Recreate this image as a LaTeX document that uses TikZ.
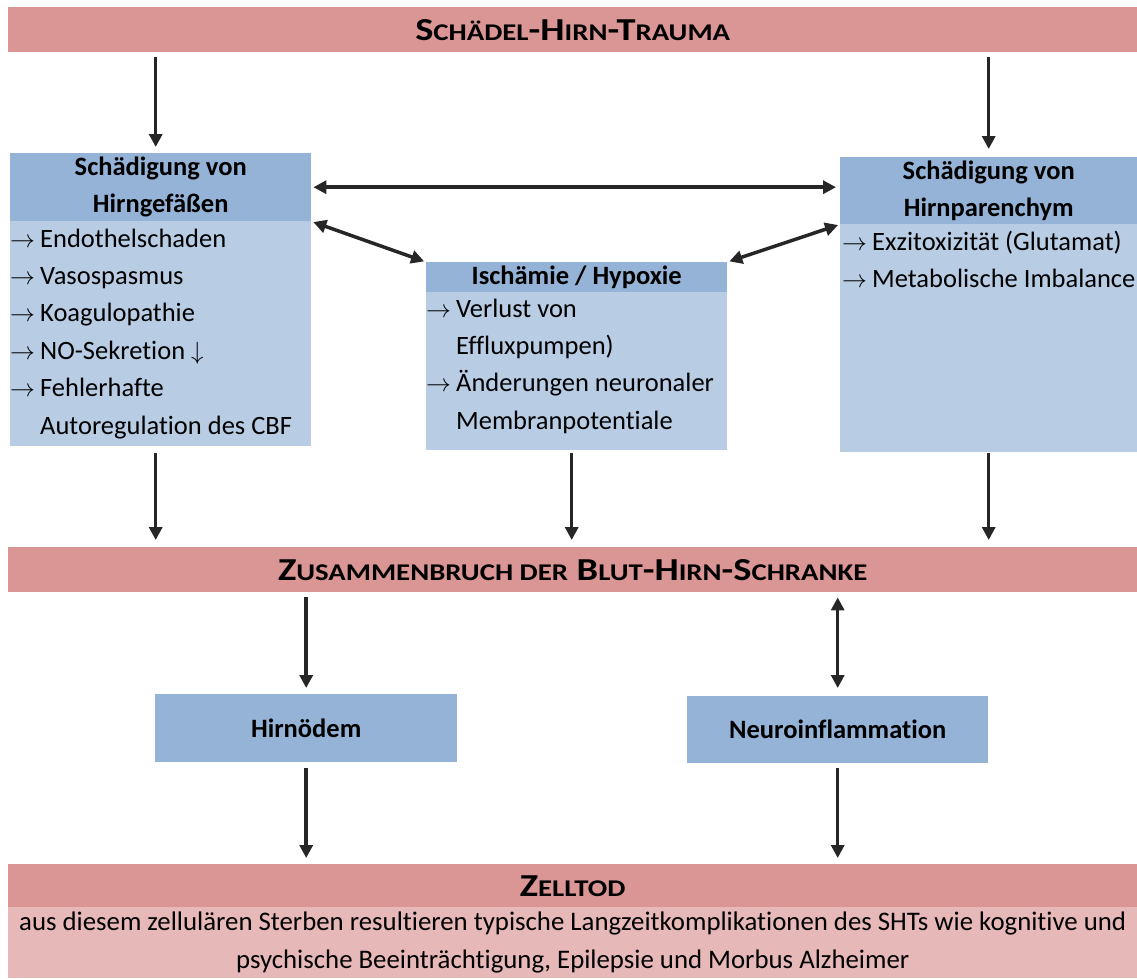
\documentclass[tikz,border=0pt]{standalone}
\usepackage{fontspec}
\setmainfont{Carlito}[Ligatures=NoCommon]
\newfontfamily\titelfont{Carlito}[FakeStretch=1.2]
\usetikzlibrary{arrows.meta}

\definecolor{balkenrot}{RGB}{218,150,148}
\definecolor{balkenhell}{RGB}{230,184,183}
\definecolor{kopfblau}{RGB}{149,179,215}
\definecolor{koerperblau}{RGB}{184,204,228}
\definecolor{pfeilgrau}{RGB}{38,38,38}

\newcommand{\pf}{\makebox[30pt][l]{\fontsize{26}{30}\selectfont$\rightarrow$}}
% Kapitaelchen von Hand (Carlito hat keine)
\newcommand{\kl}[1]{{\fontsize{24}{28}\selectfont #1}}

\tikzset{
  balken/.style={fill=balkenrot,inner sep=0pt,anchor=north west,minimum width=1129,minimum height=45,
    font=\fontsize{32}{38}\titelfont\bfseries},
  kopf/.style={fill=kopfblau,inner sep=0pt,anchor=north west,align=center,
    font=\fontsize{26.5}{37}\selectfont\bfseries},
  koerper/.style={fill=koerperblau,inner sep=0pt,anchor=north west},
  zeile/.style={anchor=base west,inner sep=0pt,font=\fontsize{26.5}{30}\selectfont},
  pfeil/.style={draw=pfeilgrau,line width=3.5pt,-{Triangle[length=13pt,width=13pt]}},
  doppelpfeil/.style={draw=pfeilgrau,line width=3.5pt,{Triangle[length=13pt,width=13pt]}-{Triangle[length=13pt,width=13pt]}}
}

\begin{document}
\begin{tikzpicture}[x=1pt,y=-1pt]
\path[use as bounding box] (0,0) rectangle (1137,978);
% Titel
\node[balken] (sht) at (8,7) {S\kl{CHÄDEL}-H\kl{IRN}-T\kl{RAUMA}};
% Gefaesse
\node[kopf,minimum width=301,minimum height=68] (gefkopf) at (10,153) {Schädigung von\\Hirngefäßen};
\node[koerper,minimum width=301,minimum height=225] (gefkoerper) at (10,221) {};
\node[zeile] (gef1) at (10,247) {\pf Endothelschaden};
\node[zeile] (gef2) at (10,284) {\pf Vasospasmus};
\node[zeile] (gef3) at (10,321) {\pf Koagulopathie};
\node[zeile] (gef4) at (10,359) {\pf NO-Sekretion {\fontsize{26}{30}\selectfont$\downarrow$}};
\node[zeile] (gef5) at (10,396) {\pf Fehlerhafte};
\node[zeile] (gef6) at (40,434) {Autoregulation des CBF};
% Ischaemie
\node[kopf,minimum width=301,minimum height=30] (ischkopf) at (426,262) {Ischämie / Hypoxie};
\node[koerper,minimum width=301,minimum height=158] (ischkoerper) at (426,292) {};
\node[zeile] (isch1) at (426,317) {\pf Verlust von};
\node[zeile] (isch2) at (456,354) {Effluxpumpen)};
\node[zeile] (isch3) at (426,391) {\pf Änderungen neuronaler};
\node[zeile] (isch4) at (456,429) {Membranpotentiale};
% Parenchym
\node[kopf,minimum width=297,minimum height=67] (parkopf) at (840,157) {Schädigung von\\Hirnparenchym};
\node[koerper,minimum width=297,minimum height=228] (parkoerper) at (840,224) {};
\node[zeile] (par1) at (842,250) {\pf Exzitoxizität (Glutamat)};
\node[zeile] (par2) at (842,287) {\pf Metabolische Imbalance};
% BHS
\node[balken] (bhs) at (8,547) {Z\kl{USAMMENBRUCH DER} B\kl{LUT}-H\kl{IRN}-S\kl{CHRANKE}};
\node[kopf,minimum width=302,minimum height=68] (oedem) at (155,694) {Hirnödem};
\node[kopf,minimum width=301,minimum height=67] (neuro) at (687,696) {Neuroinflammation};
% Zelltod
\node[balken,minimum height=43] (zelltod) at (8,864) {Z\kl{ELLTOD}};
\node[fill=balkenhell,inner sep=0pt,anchor=north west,minimum width=1129,minimum height=71,align=center,
  font=\fontsize{26.8}{38}\selectfont] (folgen) at (8,907)
  {aus diesem zellulären Sterben resultieren typische Langzeitkomplikationen des SHTs wie kognitive und\\
   psychische Beeinträchtigung, Epilepsie und Morbus Alzheimer};
% Pfeile
\draw[pfeil,shorten <=5pt,shorten >=6pt] ([xshift=-5pt]sht.south -| gefkopf.north) -- ([xshift=-5pt]gefkopf.north);
\draw[pfeil,shorten <=5pt,shorten >=8pt] (sht.south -| parkopf.north) -- (parkopf.north);
\draw[doppelpfeil,shorten <=2pt,shorten >=4pt] (gefkopf.east) -- (gefkopf.east -| parkopf.west);
\draw[doppelpfeil,shorten <=2pt,shorten >=2pt] (gefkopf.south east) -- (ischkopf.north west);
\draw[doppelpfeil,shorten <=2pt,shorten >=2pt] (ischkopf.north east) -- (parkopf.south west);
\draw[pfeil,shorten <=7pt,shorten >=7pt] ([xshift=-5pt]gefkoerper.south) -- ([xshift=-5pt]gefkoerper.south |- bhs.north);
\draw[pfeil,shorten <=3pt,shorten >=7pt] ([xshift=-5pt]ischkoerper.south) -- ([xshift=-5pt]ischkoerper.south |- bhs.north);
\draw[pfeil,shorten <=1pt,shorten >=7pt] (parkoerper.south) -- (parkoerper.south |- bhs.north);
\draw[pfeil,shorten <=5pt,shorten >=6pt] (bhs.south -| oedem.north) -- (oedem.north);
\draw[doppelpfeil,shorten <=5pt,shorten >=8pt] (bhs.south -| neuro.north) -- (neuro.north);
\draw[pfeil,shorten <=6pt,shorten >=6pt] (oedem.south) -- (oedem.south |- zelltod.north);
\draw[pfeil,shorten <=5pt,shorten >=6pt] (neuro.south) -- (neuro.south |- zelltod.north);
\end{tikzpicture}
\end{document}
